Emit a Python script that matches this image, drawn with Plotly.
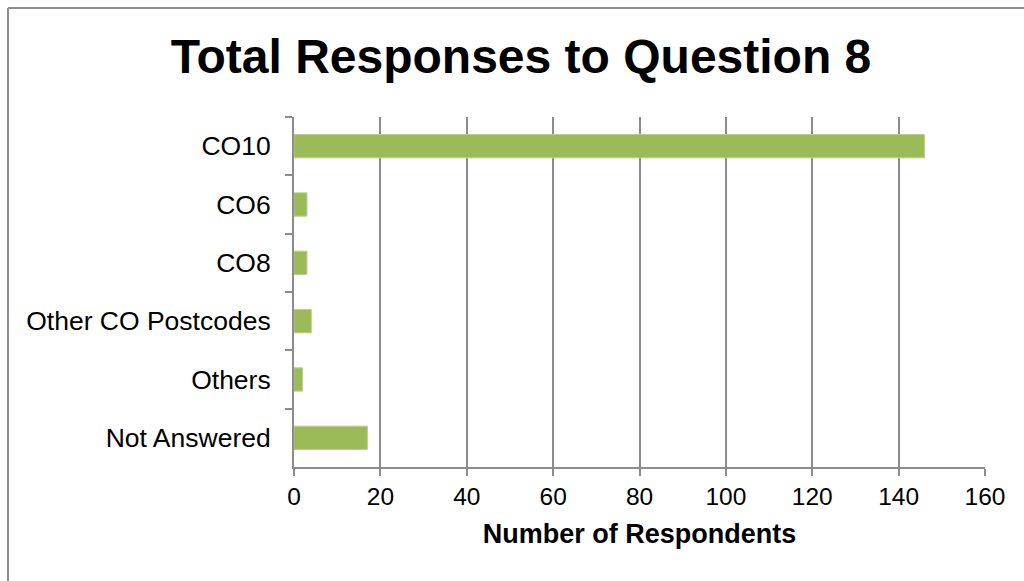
import plotly.graph_objects as go

categories = ["CO10", "CO6", "CO8", "Other CO Postcodes", "Others", "Not Answered"]
respondents = [146, 3, 3, 4, 2, 17]
x_ticks = [0, 20, 40, 60, 80, 100, 120, 140, 160]

W, H = 1024, 581
L, R, T, B = 294, 985, 117, 467

fig = go.Figure(go.Bar(
    x=respondents, y=categories, orientation="h",
    marker=dict(color="#9BBB59", line=dict(color="#b9d08c", width=1)),
    width=0.4,
))

gray = "#8c8c8c"
fig.update_layout(
    width=W, height=H, autosize=False,
    margin=dict(l=L, r=W - R, t=T, b=H - B, pad=0),
    paper_bgcolor="white", plot_bgcolor="white",
    showlegend=False,
    font=dict(family="Liberation Sans, Arial, sans-serif", color="black", size=25),
    title=dict(text="<b>Total Responses to Question 8</b>",
               font=dict(size=48, family="Liberation Sans, Arial, sans-serif", color="black"),
               x=521 / W, xanchor="center", xref="container",
               y=1 - 56 / H, yanchor="middle", yref="container"),
    xaxis=dict(range=[0, 160], tickvals=x_ticks, ticktext=[str(v) for v in x_ticks],
               showgrid=True, gridcolor=gray, gridwidth=2,
               showline=True, linecolor=gray, linewidth=2,
               ticks="outside", ticklen=7, tickwidth=2, tickcolor=gray,
               zeroline=False, tickfont=dict(size=24.5),
               title=dict(text="<b>Number of Respondents</b>", font=dict(size=27), standoff=15)),
    yaxis=dict(categoryorder="array", categoryarray=categories, autorange="reversed",
               showgrid=False, showline=True, linecolor=gray, linewidth=2,
               ticks="outside", ticklen=7, tickwidth=2, tickcolor=gray,
               tickson="boundaries", tickfont=dict(size=26.5), ticklabelstandoff=16),
)

# outer chart frame (clipped at right and bottom in the reference)
pw, ph = R - L, B - T
fx0 = (8 - L) / pw
fy1 = (B - 8) / ph
fig.add_shape(type="line", xref="paper", yref="paper", x0=fx0, x1=fx0, y0=fy1, y1=(B - 600) / ph,
              line=dict(color=gray, width=2))
fig.add_shape(type="line", xref="paper", yref="paper", x0=fx0, x1=(1040 - L) / pw, y0=fy1, y1=fy1,
              line=dict(color=gray, width=2))

fig.write_html("out.html")
